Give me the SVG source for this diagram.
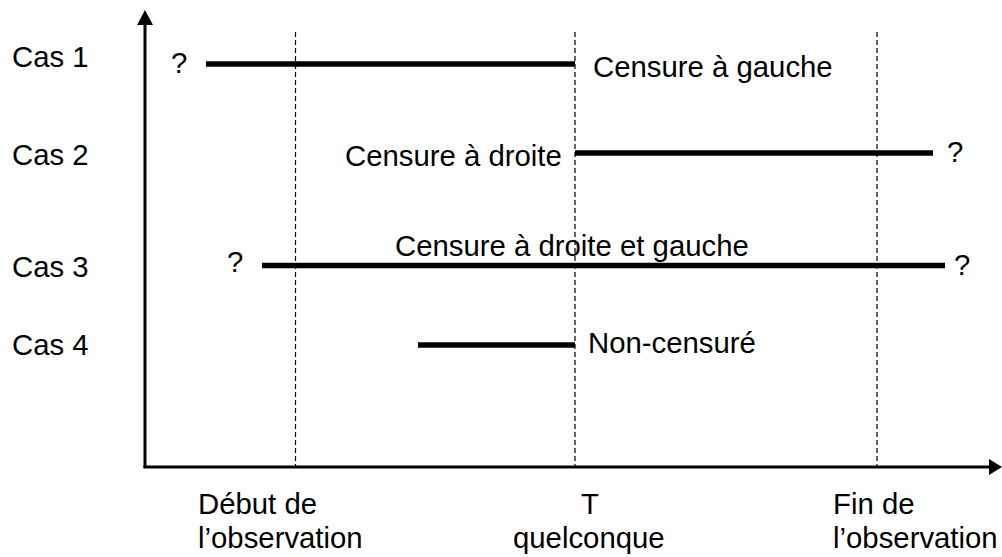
<svg xmlns="http://www.w3.org/2000/svg" width="1002" height="557" viewBox="0 0 1002 557">
<style>
text{font-family:"Liberation Sans",Arial,sans-serif;font-size:29.33px;fill:#000}
.dash{stroke:#000;stroke-width:1.2;stroke-dasharray:5,3;fill:none}
.bar{stroke:#000;stroke-width:5.5;fill:none}
.axis{stroke:#000;stroke-width:3;fill:none}
</style>
<rect width="1002" height="557" fill="#fff"/>
<g id="grid">
<line class="dash" x1="295.5" y1="32" x2="295.5" y2="466"/>
<line class="dash" x1="575" y1="32" x2="575" y2="466"/>
<line class="dash" x1="877" y1="32" x2="877" y2="466"/>
</g>
<g id="axes">
<line class="axis" x1="145" y1="468" x2="145" y2="24"/>
<polygon points="145,10 137,25 153,25"/>
<line class="axis" x1="143.5" y1="467" x2="990" y2="467"/>
<polygon points="1002,467 989,459 989,475"/>
</g>
<g id="labels">
<text x="12" y="67">Cas 1</text>
<text x="12" y="165">Cas 2</text>
<text x="12" y="277">Cas 3</text>
<text x="12" y="355">Cas 4</text>
<text x="198" y="514">Début de</text>
<text x="198" y="548">l’observation</text>
<text x="581" y="514">T</text>
<text x="513" y="548">quelconque</text>
<text x="833" y="514">Fin de</text>
<text x="833" y="548">l’observation</text>
</g>
<g id="cas1">
<line class="bar" x1="206" y1="64" x2="575" y2="64"/>
<text x="171" y="73">?</text>
<text x="593" y="77">Censure à gauche</text>
</g>
<g id="cas2">
<line class="bar" x1="575" y1="153" x2="933" y2="153"/>
<text x="947" y="162">?</text>
<text x="345" y="166">Censure à droite</text>
</g>
<g id="cas3">
<line class="bar" x1="262" y1="265.5" x2="945" y2="265.5"/>
<text x="227" y="272">?</text>
<text x="954" y="275">?</text>
<text x="395" y="256">Censure à droite et gauche</text>
</g>
<g id="cas4">
<line class="bar" x1="418" y1="345" x2="575" y2="345"/>
<text x="588" y="353">Non-censuré</text>
</g>
</svg>
